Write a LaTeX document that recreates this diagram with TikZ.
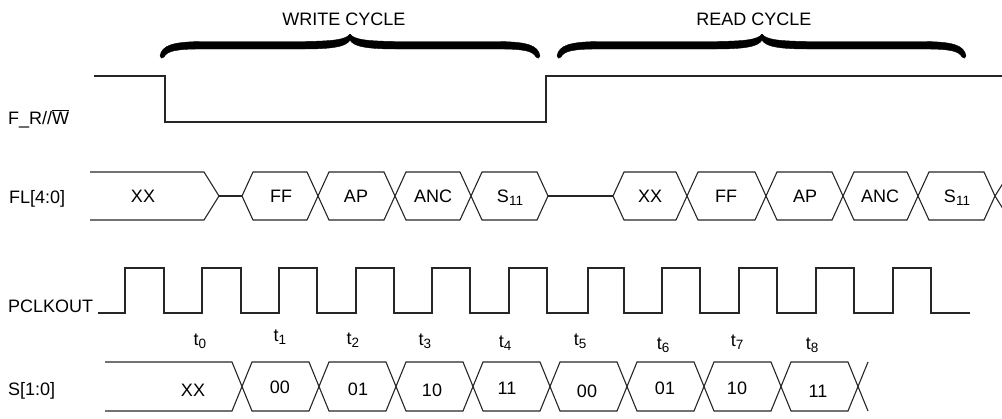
\documentclass[tikz,border=0pt]{standalone}
\usepackage{fontspec}
\setmainfont{Liberation Sans}
\newcommand\lowsub[1]{\raisebox{-3.2pt}{\fontsize{13.5}{15}\selectfont #1}}
\begin{document}
\begin{tikzpicture}[x=1pt,y=-1pt,
  sig/.style={line width=1.1pt,draw=black!85,line join=miter},
  lbl/.style={inner sep=0pt,font=\fontsize{18}{21}\selectfont},
  vtxt/.style={inner sep=0pt,font=\fontsize{18}{21}\selectfont},
  bracefill/.style={fill=black,draw=black,line width=0.4pt,line join=round}]
\useasboundingbox (0,0) rectangle (1002,418);
% cycle braces (filled calligraphic shapes)
\foreach \L/\R/\C in {161/539/350,558/965/762}{
  \fill[bracefill] (\L-1,56)
    .. controls (\L+1,45) and (\L+12,42) .. (\L+40,41.5)
    -- (\C-45,41.5)
    .. controls (\C-15,41) and (\C-4,39.5) .. (\C,34)
    .. controls (\C+4,39.5) and (\C+15,41) .. (\C+45,41.5)
    -- (\R-40,41.5)
    .. controls (\R-12,42) and (\R-1,45) .. (\R+1,56)
    .. controls (\R+1,58.5) and (\R-2,59) .. (\R-3,57)
    .. controls (\R-6,51) and (\R-15,49) .. (\R-40,49)
    -- (\C+45,49)
    .. controls (\C+15,49) and (\C+3,46) .. (\C,40)
    .. controls (\C-3,46) and (\C-15,49) .. (\C-45,49)
    -- (\L+40,49)
    .. controls (\L+15,49) and (\L+6,51) .. (\L+3,57)
    .. controls (\L+2,59) and (\L-1,58.5) .. (\L-1,56) -- cycle;
}
\node[vtxt] (wc) at (344,19) {WRITE CYCLE};
\node[vtxt] (rc) at (754,19) {READ CYCLE};
% labels
\node[lbl,anchor=base west] (lfr) at (8,124) {F\_R//$\overline{\mbox{W}}$};
\node[lbl,anchor=base west] (lfl) at (9,203) {FL[4:0]};
\node[lbl,anchor=base west] (lpc) at (8,312) {PCLKOUT};
\node[lbl,anchor=base west] (ls) at (8,395) {S[1:0]};
% F_R/W
\draw[sig] (94,76) -- (165,76) -- (165,122) -- (546,122) -- (546,76) -- (1002,76);
% FL bus
\def\T{172}\def\B{220}\def\M{196}\def\h{11}
\draw[sig] (90,\T) -- (204,\T) -- (219,\M) -- (204,\B) -- (90,\B);
\draw[sig] (219,\M) -- (242,\M);
\draw[sig] (548,\M) -- (613,\M);
\foreach \a/\b in {242/318,318/395,395/471,471/548,613/687,687/766,766/843,843/918,918/995}{
  \draw[sig] (\a,\M) -- (\a+\h,\T) -- (\b-\h,\T) -- (\b,\M) -- (\b-\h,\B) -- (\a+\h,\B) -- cycle;
}
\draw[sig] (1010,\T) -- (995,\M) -- (1010,\B);
\node[vtxt] (fxx1) at (143,196) {XX};
\node[vtxt] (fff1) at (281,196) {FF};
\node[vtxt] (fap1) at (356,196) {AP};
\node[vtxt] (fan1) at (433,196) {ANC};
\node[vtxt] (fs1) at (510,198) {S\lowsub{11}};
\node[vtxt] (fxx2) at (650,196) {XX};
\node[vtxt] (fff2) at (726,196) {FF};
\node[vtxt] (fap2) at (805,196) {AP};
\node[vtxt] (fan2) at (880,196) {ANC};
\node[vtxt] (fs2) at (957,198) {S\lowsub{11}};
% PCLKOUT
\draw[sig] (98,313)
  \foreach \r/\f in {125/164,202/241,279/317,356/394,432/470,509/547,588/624,662/700,739/777,816/854,893/931}{
    -- (\r,313) -- (\r,268) -- (\f,268) -- (\f,313)
  } -- (970,313);
% time labels
\node[vtxt] (t0) at (200,341) {t\lowsub{0}};
\node[vtxt] (t1) at (280,337) {t\lowsub{1}};
\node[vtxt] (t2) at (353,340) {t\lowsub{2}};
\node[vtxt] (t3) at (425,341) {t\lowsub{3}};
\node[vtxt] (t4) at (505,343) {t\lowsub{4}};
\node[vtxt] (t5) at (580,341) {t\lowsub{5}};
\node[vtxt] (t6) at (663,345) {t\lowsub{6}};
\node[vtxt] (t7) at (737,342) {t\lowsub{7}};
\node[vtxt] (t8) at (812,345) {t\lowsub{8}};
% S bus
\def\ST{362}\def\SB{411}\def\SM{386.5}\def\sh{10}
\draw[sig] (105,\ST) -- (232,\ST) -- (242,\SM) -- (232,\SB) -- (105,\SB);
\foreach \a/\b in {242/319,319/396,396/473,473/550,550/627,627/704,704/781,781/858}{
  \draw[sig] (\a,\SM) -- (\a+\sh,\ST) -- (\b-\sh,\ST) -- (\b,\SM) -- (\b-\sh,\SB) -- (\a+\sh,\SB) -- cycle;
}
\draw[sig] (868,\ST) -- (858,\SM) -- (868,\SB);
\node[vtxt] (sxx) at (193,390) {XX};
\node[vtxt] (s1) at (280,387) {00};
\node[vtxt] (s2) at (358,389) {01};
\node[vtxt] (s3) at (432,390) {10};
\node[vtxt] (s4) at (507,388) {11};
\node[vtxt] (s5) at (587,391) {00};
\node[vtxt] (s6) at (665,388) {01};
\node[vtxt] (s7) at (737,388) {10};
\node[vtxt] (s8) at (818,391) {11};
\end{tikzpicture}
\end{document}
